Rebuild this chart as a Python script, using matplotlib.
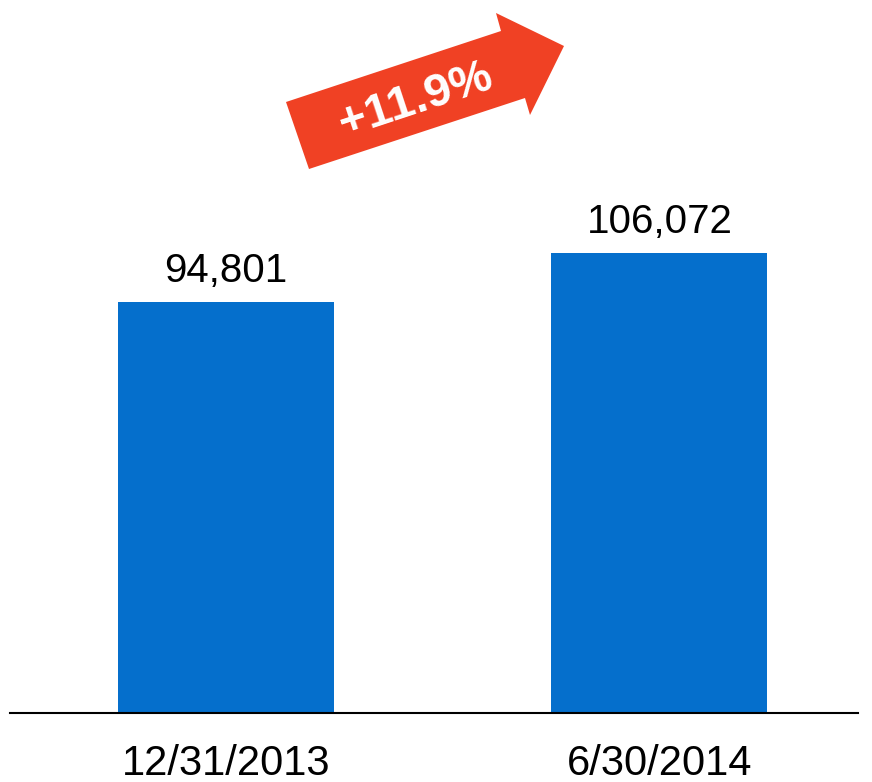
import matplotlib
matplotlib.use("Agg")
import matplotlib.pyplot as plt
from matplotlib.patches import Polygon

categories = ["12/31/2013", "6/30/2014"]
values = [94801, 106072]
value_labels = ["94,801", "106,072"]
change_label = "+11.9%"

plt.rcParams['font.family'] = ['Liberation Sans', 'DejaVu Sans']

W, H = 872, 782
fig = plt.figure(figsize=(W / 100, H / 100), dpi=100)
ax = fig.add_axes([10 / W, 69 / H, 848 / W, 713 / H])

bar_color = "#056FCC"
x = list(range(len(categories)))
ax.bar(x, values, width=0.498, color=bar_color)
ax.set_xlim(-0.498, 1.458)
ax.set_ylim(0, 164450)

for xi, v, lab in zip(x, values, value_labels):
    ax.annotate(lab, (xi, v), xytext=(0, 8.5), textcoords="offset points",
                ha="center", va="bottom", fontsize=29, color="black")

ax.set_xticks(x)
ax.set_xticklabels(categories, fontsize=30)
ax.tick_params(axis="x", length=0, pad=22)
ax.set_yticks([])
for s in ["top", "right", "left"]:
    ax.spines[s].set_visible(False)
ax.spines["bottom"].set_linewidth(1.5)
ax.spines["bottom"].set_color("black")

# decorative growth arrow (figure pixel positions)
pts = [(286, 102), (501, 31), (496, 13), (564, 46), (530, 115), (525, 98), (309, 169)]
poly = Polygon([(px / W, 1 - py / H) for px, py in pts], closed=True,
               transform=fig.transFigure, facecolor="#F04124", edgecolor="none")
fig.patches.append(poly)
fig.text(416 / W, 1 - 101 / H, change_label, ha="center", va="center",
         rotation=18.3, rotation_mode="anchor", fontsize=34, fontweight="bold",
         color="white")

fig.savefig("out.png", dpi=100)
